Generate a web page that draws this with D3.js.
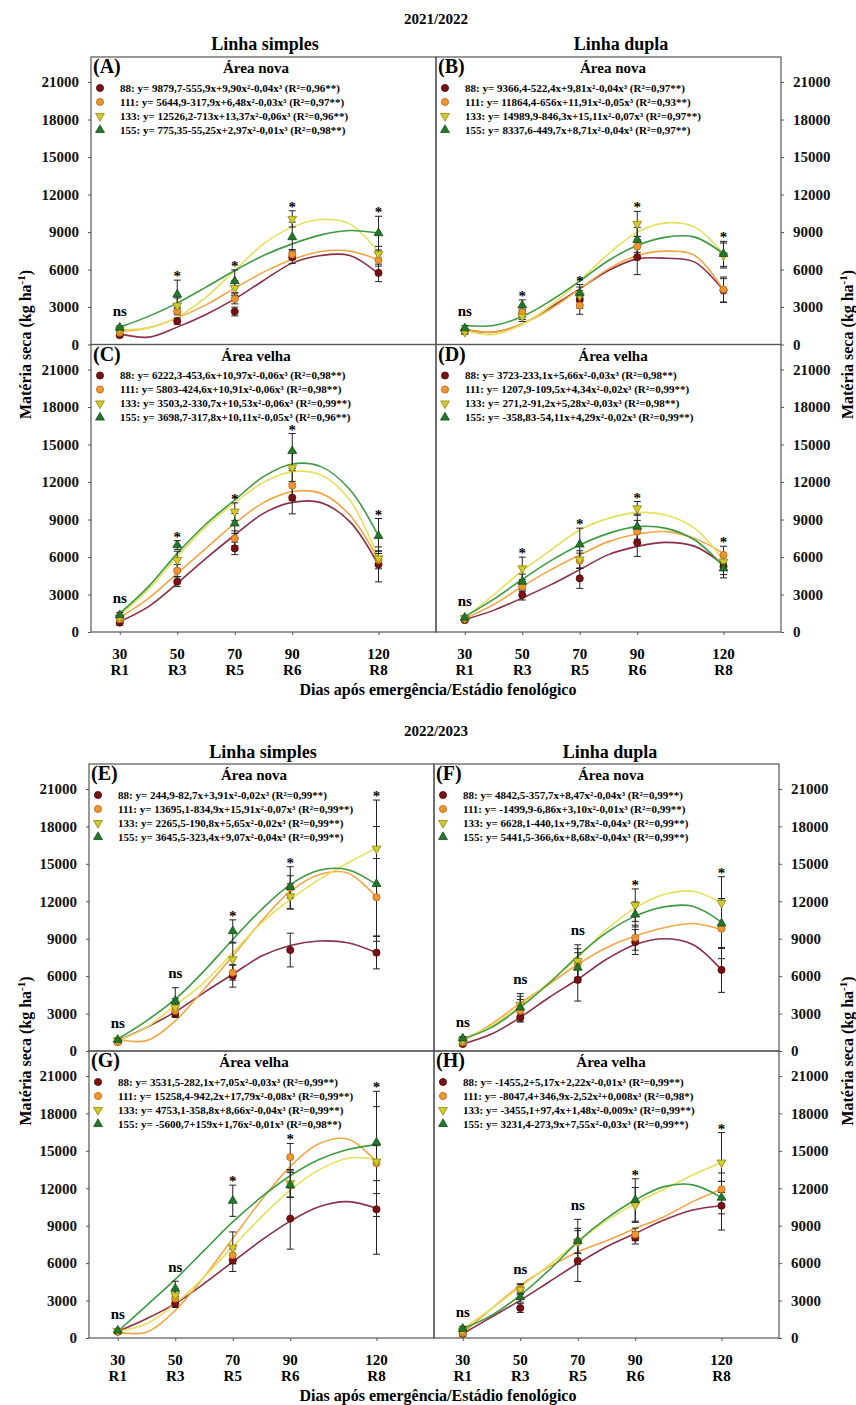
<!DOCTYPE html>
<html>
<head>
<meta charset="utf-8">
<script src="https://cdn.jsdelivr.net/npm/d3@7"></script>
<style>
  body { margin: 0; background: #fff; }
</style>
</head>
<body>
<div id="chart"></div>
<script>
// sampling days, phenological stages, doses
var days = [30, 50, 70, 90, 120];
var stages = ["R1", "R3", "R5", "R6", "R8"];
var fitDays = [30, 40, 50, 60, 70, 80, 90, 100, 110, 120];
var doses = ["88", "111", "133", "155"];
var yTicks = [0, 3000, 6000, 9000, 12000, 15000, 18000, 21000];
var seasons = ["2021/2022", "2022/2023"];
var rowTypes = ["Linha simples", "Linha dupla"];
var areas = ["Área nova", "Área velha"];

// ---- (A) 2021/2022, linha simples, área nova
var meanA = [[750, 1870, 2640, 6990, 5730], [950, 2670, 3650, 7200, 6770], [1200, 3120, 4510, 10050, 7250], [1350, 4000, 5070, 8590, 8910]];
var errA = [[150, 250, 350, 500, 700], [150, 300, 400, 400, 500], [150, 600, 600, 650, 600], [150, 1150, 900, 1200, 1350]];
var fitA = [[850, 590, 1390, 2400, 3650, 5120, 6510, 7120, 7120, 5650],
            [1070, 1330, 2130, 3170, 4510, 5790, 6800, 7440, 7470, 6770],
            [1170, 1350, 2190, 3790, 5920, 8050, 9390, 10000, 9650, 7390],
            [1390, 2250, 3310, 4590, 5920, 7120, 8050, 8770, 9120, 8910]];
var eqA = ["88: y= 9879,7-555,9x+9,90x²-0,04x³ (R²=0,96**)", "111: y= 5644,9-317,9x+6,48x²-0,03x³ (R²=0,97**)",
           "133: y= 12526,2-713x+13,37x²-0,06x³ (R²=0,96**)", "155: y= 775,35-55,25x+2,97x²-0,01x³ (R²=0,98**)"];
var sigA = ["ns", "*", "*", "*", "*"];

// ---- (B) 2021/2022, linha dupla, área nova
var meanB = [[1100, 2400, 3600, 6990, 4320], [1050, 2590, 3120, 7840, 4400], [1000, 2240, 3900, 9650, 7120], [1300, 3120, 4100, 8370, 7250]];
var errB = [[200, 400, 700, 1400, 950], [200, 400, 700, 800, 1000], [200, 400, 700, 1000, 1000], [200, 450, 700, 1000, 1000]];
var fitB = [[1170, 990, 1650, 2990, 4450, 5920, 6850, 6900, 6590, 4320],
            [1250, 990, 1650, 2850, 4450, 6050, 7120, 7470, 7120, 4370],
            [1120, 800, 1600, 3120, 5120, 7250, 8990, 9730, 9390, 7250],
            [1520, 1520, 2240, 3520, 5070, 6720, 7920, 8590, 8590, 7250]];
var eqB = ["88: y= 9366,4-522,4x+9,81x²-0,04x³ (R²=0,97**)", "111: y= 11864,4-656x+11,91x²-0,05x³ (R²=0,93**)",
           "133: y= 14989,9-846,3x+15,11x²-0,07x³ (R²=0,97**)", "155: y= 8337,6-449,7x+8,71x²-0,04x³ (R²=0,97**)"];
var sigB = ["ns", "*", "*", "*", "*"];

// ---- (C) 2021/2022, linha simples, área velha
var meanC = [[750, 4030, 6690, 10750, 5410], [1010, 4910, 7490, 11710, 5760], [1150, 5760, 9630, 13150, 5890], [1360, 6960, 8690, 14480, 7680]];
var errC = [[200, 400, 500, 1300, 1400], [200, 500, 600, 1200, 700], [200, 700, 700, 1300, 600], [200, 350, 800, 1400, 1400]];
var fitC = [[830, 2030, 3890, 5890, 7760, 9490, 10370, 10350, 8830, 5360],
            [1150, 2690, 4690, 6690, 8690, 10350, 11230, 11090, 9360, 5760],
            [1360, 3410, 6030, 8430, 10350, 11970, 12830, 12560, 10560, 5890],
            [1490, 3630, 6290, 8640, 10560, 12430, 13440, 13230, 11400, 7680]];
var eqC = ["88: y= 6222,3-453,6x+10,97x²-0,06x³ (R²=0,98**)", "111: y= 5803-424,6x+10,91x²-0,06x³ (R²=0,98**)",
           "133: y= 3503,2-330,7x+10,53x²-0,06x³ (R²=0,99**)", "155: y= 3698,7-317,8x+10,11x²-0,05x³ (R²=0,96**)"];
var sigC = ["ns", "*", "*", "*", "*"];

// ---- (D) 2021/2022, linha dupla, área velha
var meanD = [[950, 2960, 4290, 7150, 5230], [1050, 3630, 5710, 8030, 6160], [1100, 5090, 5800, 9890, 5630], [1150, 4030, 7010, 8430, 5090]];
var errD = [[150, 400, 800, 1100, 900], [150, 400, 600, 900, 700], [150, 900, 700, 550, 600], [150, 600, 1300, 1000, 500]];
var fitD = [[990, 1730, 2720, 3790, 4990, 6190, 6850, 7170, 6850, 5390],
            [1070, 2190, 3650, 4990, 6160, 7230, 7840, 8030, 7490, 6290],
            [1150, 2960, 4910, 6560, 8160, 9090, 9550, 9360, 8290, 5700],
            [1230, 2610, 4210, 5710, 6960, 7890, 8430, 8290, 7360, 5230]];
var eqD = ["88: y= 3723-233,1x+5,66x²-0,03x³ (R²=0,98**)", "111: y= 1207,9-109,5x+4,34x²-0,02x³ (R²=0,99**)",
           "133: y= 271,2-91,2x+5,28x²-0,03x³ (R²=0,98**)", "155: y= -358,83-54,11x+4,29x²-0,02x³ (R²=0,99**)"];
var sigD = ["ns", "*", "*", "*", "*"];

// ---- (E) 2022/2023, linha simples, área nova
var meanE = [[750, 3000, 6020, 8090, 7880], [700, 3220, 6280, 13070, 12320], [850, 3490, 7350, 12400, 16210], [900, 4020, 9610, 13150, 13390]];
var errE = [[150, 300, 900, 1350, 1300], [150, 500, 600, 1700, 3100], [150, 700, 1300, 1000, 3900], [150, 1050, 900, 900, 4600]];
var fitE = [[830, 1890, 3140, 4680, 6150, 7610, 8460, 8810, 8680, 7880],
            [960, 830, 2420, 4950, 7610, 10410, 12800, 14130, 14270, 12320],
            [830, 1890, 3670, 5480, 7880, 10270, 12140, 13730, 15070, 16260],
            [960, 2420, 4150, 6410, 8940, 11340, 13330, 14480, 14530, 13330]];
var eqE = ["88: y= 244,9-82,7x+3,91x²-0,02x³ (R²=0,99**)", "111: y= 13695,1-834,9x+15,91x²-0,07x³ (R²=0,99**)",
           "133: y= 2265,5-190,8x+5,65x²-0,02x³ (R²=0,99**)", "155: y= 3645,5-323,4x+9,07x²-0,04x³ (R²=0,99**)"];
var sigE = ["ns", "ns", "*", "*", "*"];

// ---- (F) 2022/2023, linha dupla, área nova
var meanF = [[560, 2690, 5700, 8730, 6500], [690, 3220, 7000, 9080, 9800], [850, 3700, 7210, 11690, 11870], [1010, 3490, 6680, 10940, 10220]];
var errF = [[150, 300, 1700, 1000, 1800], [150, 900, 1200, 1000, 2400], [150, 900, 1300, 1300, 2100], [150, 900, 1200, 1000, 2000]];
var fitF = [[560, 1360, 2690, 4290, 5750, 7350, 8540, 9000, 8540, 6500],
            [830, 2160, 3830, 5350, 6950, 8280, 9210, 9880, 10220, 9740],
            [960, 2020, 3620, 5480, 7480, 9740, 11470, 12540, 12800, 11870],
            [960, 1890, 3490, 5430, 7610, 9480, 10810, 11550, 11600, 10330]];
var eqF = ["88: y= 4842,5-357,7x+8,47x²-0,04x³ (R²=0,99**)", "111: y= -1499,9-6,86x+3,10x²-0,01x³ (R²=0,99**)",
           "133: y= 6628,1-440,1x+9,78x²-0,04x³ (R²=0,99**)", "155: y= 5441,5-366,6x+8,68x²-0,04x³ (R²=0,99**)"];
var sigF = ["ns", "ns", "ns", "*", "*"];

// ---- (G) 2022/2023, linha simples, área velha
var meanG = [[500, 2750, 6230, 9570, 10310], [550, 3150, 6640, 14490, 14010], [550, 3420, 7250, 12400, 14140], [600, 3950, 11000, 12260, 15670]];
var errG = [[150, 300, 900, 2450, 3600], [150, 400, 700, 1100, 1400], [150, 500, 1250, 1100, 4400], [150, 600, 1250, 1000, 4100]];
var fitG = [[520, 1540, 2750, 4360, 6100, 7840, 9370, 10520, 10930, 10390],
            [470, 470, 2210, 4890, 7980, 11060, 13740, 15560, 15940, 14140],
            [520, 1140, 2750, 4890, 7310, 9710, 11850, 13470, 14410, 14330],
            [520, 2600, 4700, 7000, 9300, 11300, 13000, 14300, 15100, 15500]];
var eqG = ["88: y= 3531,5-282,1x+7,05x²-0,03x³ (R²=0,99**)", "111: y= 15258,4-942,2x+17,79x²-0,08x³ (R²=0,99**)",
           "133: y= 4753,1-358,8x+8,66x²-0,04x³ (R²=0,99**)", "155: y= -5600,7+159x+1,76x²-0,01x³ (R²=0,98**)"];
var sigG = ["ns", "ns", "*", "*", "*"];

// ---- (H) 2022/2023, linha dupla, área velha
var meanH = [[340, 2400, 6180, 8030, 10600], [390, 3950, 7700, 8300, 11920], [600, 3870, 7710, 10660, 14060], [740, 3280, 7790, 11060, 11250]];
var errH = [[200, 350, 1650, 500, 1950], [200, 400, 900, 500, 1300], [200, 400, 1800, 1400, 2400], [200, 400, 1000, 1700, 1300]];
var fitH = [[340, 1680, 3020, 4490, 5970, 7310, 8380, 9450, 10250, 10600],
            [390, 2350, 4220, 5700, 6900, 7790, 8780, 9720, 10930, 11920],
            [740, 2350, 4090, 5830, 7710, 9400, 10790, 11920, 13070, 14060],
            [740, 1810, 3420, 5430, 7710, 9580, 11060, 12130, 12270, 11250]];
var eqH = ["88: y= -1455,2+5,17x+2,22x²-0,01x³ (R²=0,99**)", "111: y= -8047,4+346,9x-2,52x²+0,008x³ (R²=0,98*)",
           "133: y= -3455,1+97,4x+1,48x²-0,009x³ (R²=0,99**)", "155: y= 3231,4-273,9x+7,55x²-0,03x³ (R²=0,99**)"];
var sigH = ["ns", "ns", "ns", "*", "*"];

var panels = [
  { id: "A", s: 0, row: 0, col: 0, mean: meanA, err: errA, fit: fitA, eq: eqA, sig: sigA },
  { id: "B", s: 0, row: 0, col: 1, mean: meanB, err: errB, fit: fitB, eq: eqB, sig: sigB },
  { id: "C", s: 0, row: 1, col: 0, mean: meanC, err: errC, fit: fitC, eq: eqC, sig: sigC },
  { id: "D", s: 0, row: 1, col: 1, mean: meanD, err: errD, fit: fitD, eq: eqD, sig: sigD },
  { id: "E", s: 1, row: 0, col: 0, mean: meanE, err: errE, fit: fitE, eq: eqE, sig: sigE },
  { id: "F", s: 1, row: 0, col: 1, mean: meanF, err: errF, fit: fitF, eq: eqF, sig: sigF },
  { id: "G", s: 1, row: 1, col: 0, mean: meanG, err: errG, fit: fitG, eq: eqG, sig: sigG },
  { id: "H", s: 1, row: 1, col: 1, mean: meanH, err: errH, fit: fitH, eq: eqH, sig: sigH }
];

// styling
var font = '"Liberation Serif", "Times New Roman", serif';
var markFill = ["#7a0f14", "#f0962e", "#d2c92c", "#22782a"];
var markStroke = ["#4a070a", "#b5631a", "#8c8612", "#134a17"];
var lineColor = ["#8a3046", "#f3a645", "#e6e05a", "#3e9a42"];
var shapes = [d3.symbolCircle, d3.symbolCircle, d3.symbolTriangle, d3.symbolTriangle];

// layout of the two figures
var W = 345;
var figTop = [57, 764];
var panelH = [287.5, 287];
var figLeft = [91, 89];
var seasonY = [24, 735.5];
var typeY = [50, 758];
var typeX = [[265, 621], [263, 610]];
var areaX = [165, 177];

var svg = d3.select("#chart").append("svg")
  .attr("width", 856)
  .attr("height", 1405)
  .style("background", "#fff")
  .style("font-family", font)
  .style("font-weight", "bold");

svg.append("rect").attr("width", 856).attr("height", 1405).attr("fill", "#fff");

function marker(g, i, x, y) {
  g.append("path")
    .attr("d", d3.symbol().type(shapes[i]).size(i < 2 ? 40 : 34)())
    .attr("transform", "translate(" + x + "," + y + ")" + (i === 2 ? " rotate(180)" : ""))
    .attr("fill", markFill[i])
    .attr("stroke", markStroke[i])
    .attr("stroke-width", 0.8);
}

function yTitle(x, y) {
  var t = svg.append("text")
    .attr("transform", "translate(" + x + "," + y + ") rotate(-90)")
    .attr("text-anchor", "middle")
    .style("font-size", "16px")
    .text("Matéria seca (kg ha");
  t.append("tspan").attr("dy", -6).style("font-size", "11px").text("-1");
  t.append("tspan").attr("dy", 6).text(")");
}

// figure titles
seasons.forEach(function (s, k) {
  svg.append("text").attr("x", 436).attr("y", seasonY[k])
    .attr("text-anchor", "middle").style("font-size", "15px").text(s);
  rowTypes.forEach(function (r, c) {
    svg.append("text").attr("x", typeX[k][c]).attr("y", typeY[k])
      .attr("text-anchor", "middle").style("font-size", "18px").text(r);
  });
  var mid = figTop[k] + panelH[k];
  yTitle(31, mid);
  yTitle(853, mid);
  svg.append("text").attr("x", 438).attr("y", figTop[k] + 2 * panelH[k] + 63)
    .attr("text-anchor", "middle").style("font-size", "16px")
    .text("Dias após emergência/Estádio fenológico");
});

panels.forEach(function (p) {
  var x0 = figLeft[p.s] + p.col * W;
  var y0 = figTop[p.s] + p.row * panelH[p.s];
  var h = panelH[p.s];

  var x = d3.scaleLinear().domain([20, 140]).range([x0, x0 + W]);
  var y = d3.scaleLinear().domain([0, 23000]).range([y0 + h, y0]);

  var g = svg.append("g");

  // frame
  g.append("rect")
    .attr("x", x0).attr("y", y0).attr("width", W).attr("height", h)
    .attr("fill", "none").attr("stroke", "#555").attr("stroke-width", 1.2);

  // y axis (left column on left, right column on right)
  var axis = p.col === 0 ? d3.axisLeft(y) : d3.axisRight(y);
  axis.tickValues(yTicks).tickSize(3).tickPadding(9).tickFormat(d3.format("d"));
  var ax = g.append("g")
    .attr("transform", "translate(" + (p.col === 0 ? x0 : x0 + W) + ",0)")
    .call(axis);
  ax.select(".domain").remove();
  ax.selectAll("line").attr("stroke", "#555");
  ax.selectAll("text").style("font-family", font).style("font-weight", "bold")
    .style("font-size", "15px").attr("fill", "#111");

  // x axis ticks and labels on bottom row
  if (p.row === 1) {
    var xa = d3.axisBottom(x).tickValues(days).tickSize(3).tickFormat("");
    var xg = g.append("g").attr("transform", "translate(0," + (y0 + h) + ")").call(xa);
    xg.select(".domain").remove();
    xg.selectAll("line").attr("stroke", "#555");
    days.forEach(function (d, j) {
      g.append("text").attr("x", x(d)).attr("y", y0 + h + 27)
        .attr("text-anchor", "middle").style("font-size", "15px").text(d);
      g.append("text").attr("x", x(d)).attr("y", y0 + h + 42.5)
        .attr("text-anchor", "middle").style("font-size", "15px").text(stages[j]);
    });
  }

  // panel letter and area
  g.append("text").attr("x", x0 + 2).attr("y", y0 + 16)
    .style("font-size", "20px").text("(" + p.id + ")");
  g.append("text").attr("x", x0 + areaX[p.col]).attr("y", y0 + 16)
    .attr("text-anchor", "middle").style("font-size", "15px").text(areas[p.row]);

  // legend
  doses.forEach(function (d, i) {
    var ly = y0 + 31 + 14 * i;
    marker(g, i, x0 + 9, ly);
    g.append("text").attr("x", x0 + 29).attr("y", ly + 3.6)
      .style("font-size", "11px").text(p.eq[i]);
  });

  // fitted curves
  var line = d3.line()
    .x(function (d) { return x(d[0]); })
    .y(function (d) { return y(d[1]); })
    .curve(d3.curveCatmullRom.alpha(0.5));
  p.fit.forEach(function (f, i) {
    g.append("path")
      .datum(fitDays.map(function (d, k) { return [d, f[k]]; }))
      .attr("d", line)
      .attr("fill", "none")
      .attr("stroke", lineColor[i])
      .attr("stroke-width", 1.6);
  });

  // error bars
  p.mean.forEach(function (m, i) {
    m.forEach(function (v, j) {
      var e = p.err[i][j];
      var cx = x(days[j]);
      g.append("line").attr("x1", cx).attr("x2", cx)
        .attr("y1", y(v - e)).attr("y2", y(v + e))
        .attr("stroke", "#222").attr("stroke-width", 1);
      [v - e, v + e].forEach(function (c) {
        g.append("line").attr("x1", cx - 3.5).attr("x2", cx + 3.5)
          .attr("y1", y(c)).attr("y2", y(c))
          .attr("stroke", "#222").attr("stroke-width", 1);
      });
    });
  });

  // means
  p.mean.forEach(function (m, i) {
    m.forEach(function (v, j) { marker(g, i, x(days[j]), y(v)); });
  });

  // significance labels above the highest bar
  days.forEach(function (d, j) {
    var top = d3.max(p.mean, function (m, i) { return m[j] + p.err[i][j]; });
    var py = y(top);
    var ns = p.sig[j] === "ns";
    g.append("text").attr("x", x(d)).attr("y", ns ? py - 9.5 : py + 1)
      .attr("text-anchor", "middle")
      .style("font-size", ns ? "15px" : "15px")
      .text(p.sig[j]);
  });
});
</script>
</body>
</html>
